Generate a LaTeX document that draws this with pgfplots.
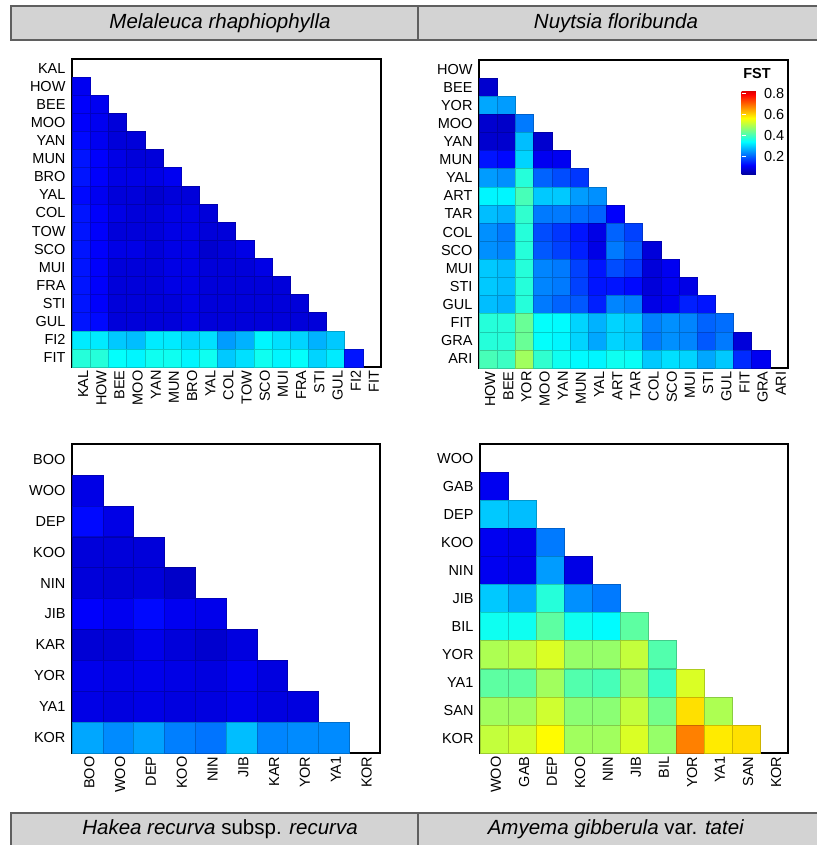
\documentclass[border=0pt]{standalone}
\usepackage{fontspec}
\setmainfont{Liberation Sans}
\usepackage{pgfplots}
\pgfplotsset{compat=1.18}

\definecolor{hdrfill}{RGB}{211,211,211}
\definecolor{hdrline}{RGB}{95,95,95}
\newcommand{\lab}{\fontsize{14.5}{16}\selectfont}
\newcommand{\hdr}{\fontsize{20.5}{22}\selectfont}

\pgfplotsset{
  heat/.style={
    scale only axis, anchor=south west,
    y dir=reverse, enlargelimits=false, axis on top,
    axis line style={line width=1.8pt},
    major tick length=0pt, tick style={draw=none},
    xticklabel pos=lower,
    x tick label style={rotate=90, anchor=east, font=\lab, yshift=-2pt},
    y tick label style={font=\lab, xshift=-3pt},
    colormap/jet, point meta min=0, point meta max=0.9,
  },
  cells/.style={scatter, only marks, mark=square*, mark size=#1, point meta=explicit},
}

\begin{document}
\begin{tikzpicture}
\path[use as bounding box] (0,0) rectangle (816pt,845pt);

% header and footer strips
\draw[hdrline, line width=2pt, fill=hdrfill] (11pt,805pt) rectangle (418pt,839pt);
\draw[hdrline, line width=2pt, fill=hdrfill] (418pt,805pt) rectangle (830pt,839pt);
\draw[hdrline, line width=2pt, fill=hdrfill] (11pt,-5pt) rectangle (418pt,32pt);
\draw[hdrline, line width=2pt, fill=hdrfill] (418pt,-5pt) rectangle (830pt,32pt);
\node[font=\hdr\itshape] at (220pt,822pt) {Melaleuca rhaphiophylla};
\node[font=\hdr\itshape] at (616pt,822pt) {Nuytsia floribunda};
\node[font=\hdr] at (220pt,16pt) {\textit{Hakea recurva} subsp. \textit{recurva}};
\node[font=\hdr] at (616pt,16pt) {\textit{Amyema gibberula} var. \textit{tatei}};

% Melaleuca rhaphiophylla
\begin{axis}[heat, at={(72pt,478pt)}, width=309pt, height=308pt,
  xmin=-0.5, xmax=16.5, ymin=-0.5, ymax=16.5,
  xtick={0,...,16}, ytick={0,...,16},
  xticklabels={KAL,HOW,BEE,MOO,YAN,MUN,BRO,YAL,COL,TOW,SCO,MUI,FRA,STI,GUL,FI2,FIT},
  yticklabels={KAL,HOW,BEE,MOO,YAN,MUN,BRO,YAL,COL,TOW,SCO,MUI,FRA,STI,GUL,FI2,FIT}]
\addplot[cells=9.09pt] coordinates {
(0,1)[.10]
(0,2)[.11] (1,2)[.10]
(0,3)[.11] (1,3)[.10] (2,3)[.08]
(0,4)[.12] (1,4)[.10] (2,4)[.08] (3,4)[.08]
(0,5)[.13] (1,5)[.11] (2,5)[.09] (3,5)[.08] (4,5)[.08]
(0,6)[.13] (1,6)[.11] (2,6)[.09] (3,6)[.09] (4,6)[.09] (5,6)[.10]
(0,7)[.12] (1,7)[.10] (2,7)[.08] (3,7)[.08] (4,7)[.07] (5,7)[.08] (6,7)[.08]
(0,8)[.13] (1,8)[.11] (2,8)[.09] (3,8)[.08] (4,8)[.08] (5,8)[.09] (6,8)[.09] (7,8)[.08]
(0,9)[.13] (1,9)[.11] (2,9)[.08] (3,9)[.08] (4,9)[.08] (5,9)[.09] (6,9)[.09] (7,9)[.08] (8,9)[.08]
(0,10)[.13] (1,10)[.11] (2,10)[.09] (3,10)[.09] (4,10)[.08] (5,10)[.09] (6,10)[.09] (7,10)[.07] (8,10)[.08] (9,10)[.09]
(0,11)[.13] (1,11)[.11] (2,11)[.08] (3,11)[.08] (4,11)[.08] (5,11)[.09] (6,11)[.09] (7,11)[.08] (8,11)[.08] (9,11)[.08] (10,11)[.09]
(0,12)[.13] (1,12)[.11] (2,12)[.08] (3,12)[.08] (4,12)[.08] (5,12)[.09] (6,12)[.09] (7,12)[.08] (8,12)[.08] (9,12)[.08] (10,12)[.08] (11,12)[.08]
(0,13)[.13] (1,13)[.11] (2,13)[.08] (3,13)[.08] (4,13)[.08] (5,13)[.08] (6,13)[.09] (7,13)[.08] (8,13)[.08] (9,13)[.08] (10,13)[.08] (11,13)[.08] (12,13)[.08]
(0,14)[.13] (1,14)[.12] (2,14)[.08] (3,14)[.08] (4,14)[.08] (5,14)[.08] (6,14)[.09] (7,14)[.08] (8,14)[.08] (9,14)[.08] (10,14)[.08] (11,14)[.08] (12,14)[.08] (13,14)[.08]
(0,15)[.32] (1,15)[.32] (2,15)[.29] (3,15)[.28] (4,15)[.32] (5,15)[.32] (6,15)[.30] (7,15)[.31] (8,15)[.25] (9,15)[.27] (10,15)[.33] (11,15)[.31] (12,15)[.30] (13,15)[.27] (14,15)[.29]
(0,16)[.37] (1,16)[.37] (2,16)[.34] (3,16)[.33] (4,16)[.35] (5,16)[.35] (6,16)[.33] (7,16)[.35] (8,16)[.29] (9,16)[.31] (10,16)[.35] (11,16)[.33] (12,16)[.34] (13,16)[.30] (14,16)[.32] (15,16)[.13]
};
\end{axis}

% Nuytsia floribunda
\begin{axis}[heat, at={(479pt,477pt)}, width=309pt, height=308pt,
  xmin=-0.5, xmax=16.5, ymin=-0.5, ymax=16.5,
  xtick={0,...,16}, ytick={0,...,16},
  xticklabels={HOW,BEE,YOR,MOO,YAN,MUN,YAL,ART,TAR,COL,SCO,MUI,STI,GUL,FIT,GRA,ARI},
  yticklabels={HOW,BEE,YOR,MOO,YAN,MUN,YAL,ART,TAR,COL,SCO,MUI,STI,GUL,FIT,GRA,ARI},
  colorbar,
  colorbar style={at={(parent axis.south west)}, anchor=south west,
    xshift=254pt, yshift=193pt, scale only axis, width=19pt, height=83pt,
    ymin=0.02, ymax=0.81, ytick={0.2,0.4,0.6,0.8},
    yticklabel style={font=\lab, /pgf/number format/fixed,
      /pgf/number format/fixed zerofill, /pgf/number format/precision=1,
      /pgf/number format/assume math mode=true},
    axis line style={draw=none},
    ytick style={draw=white, line width=1pt}, major tick length=4pt, tick align=inside,
    title={\textbf{FST}}, title style={font=\lab, yshift=4pt, xshift=6pt}}]
\addplot[cells=9.09pt] coordinates {
(0,1)[.07]
(0,2)[.26] (1,2)[.25]
(0,3)[.07] (1,3)[.065] (2,3)[.22]
(0,4)[.07] (1,4)[.07] (2,4)[.28] (3,4)[.07]
(0,5)[.13] (1,5)[.12] (2,5)[.30] (3,5)[.10] (4,5)[.10]
(0,6)[.25] (1,6)[.24] (2,6)[.37] (3,6)[.20] (4,6)[.18] (5,6)[.16]
(0,7)[.33] (1,7)[.33] (2,7)[.40] (3,7)[.29] (4,7)[.29] (5,7)[.25] (6,7)[.24]
(0,8)[.28] (1,8)[.27] (2,8)[.38] (3,8)[.22] (4,8)[.22] (5,8)[.21] (6,8)[.20] (7,8)[.11]
(0,9)[.24] (1,9)[.22] (2,9)[.37] (3,9)[.18] (4,9)[.16] (5,9)[.13] (6,9)[.09] (7,9)[.20] (8,9)[.17]
(0,10)[.24] (1,10)[.23] (2,10)[.37] (3,10)[.19] (4,10)[.17] (5,10)[.14] (6,10)[.09] (7,10)[.22] (8,10)[.19] (9,10)[.08]
(0,11)[.29] (1,11)[.28] (2,11)[.37] (3,11)[.23] (4,11)[.22] (5,11)[.17] (6,11)[.13] (7,11)[.18] (8,11)[.16] (9,11)[.08] (10,11)[.10]
(0,12)[.29] (1,12)[.28] (2,12)[.37] (3,12)[.23] (4,12)[.22] (5,12)[.17] (6,12)[.13] (7,12)[.13] (8,12)[.12] (9,12)[.08] (10,12)[.10] (11,12)[.09]
(0,13)[.28] (1,13)[.27] (2,13)[.37] (3,13)[.22] (4,13)[.20] (5,13)[.19] (6,13)[.14] (7,13)[.23] (8,13)[.22] (9,13)[.09] (10,13)[.10] (11,13)[.14] (12,13)[.13]
(0,14)[.37] (1,14)[.37] (2,14)[.43] (3,14)[.34] (4,14)[.335] (5,14)[.30] (6,14)[.27] (7,14)[.30] (8,14)[.29] (9,14)[.225] (10,14)[.24] (11,14)[.23] (12,14)[.20] (13,14)[.21]
(0,15)[.37] (1,15)[.37] (2,15)[.43] (3,15)[.34] (4,15)[.33] (5,15)[.30] (6,15)[.26] (7,15)[.30] (8,15)[.29] (9,15)[.22] (10,15)[.24] (11,15)[.23] (12,15)[.19] (13,15)[.22] (14,15)[.08]
(0,16)[.40] (1,16)[.39] (2,16)[.48] (3,16)[.38] (4,16)[.35] (5,16)[.335] (6,16)[.33] (7,16)[.35] (8,16)[.345] (9,16)[.29] (10,16)[.31] (11,16)[.30] (12,16)[.26] (13,16)[.29] (14,16)[.15] (15,16)[.10]
};
\end{axis}

% Hakea recurva subsp. recurva
\begin{axis}[heat, at={(72pt,92pt)}, width=308pt, height=309pt,
  xmin=-0.5, xmax=9.5, ymin=-0.5, ymax=9.5,
  xtick={0,...,9}, ytick={0,...,9},
  xticklabels={BOO,WOO,DEP,KOO,NIN,JIB,KAR,YOR,YA1,KOR},
  yticklabels={BOO,WOO,DEP,KOO,NIN,JIB,KAR,YOR,YA1,KOR}]
\addplot[cells=15.4pt] coordinates {
(0,1)[.09]
(0,2)[.12] (1,2)[.09]
(0,3)[.08] (1,3)[.08] (2,3)[.08]
(0,4)[.08] (1,4)[.075] (2,4)[.08] (3,4)[.065]
(0,5)[.11] (1,5)[.10] (2,5)[.12] (3,5)[.10] (4,5)[.095]
(0,6)[.075] (1,6)[.075] (2,6)[.095] (3,6)[.08] (4,6)[.07] (5,6)[.085]
(0,7)[.095] (1,7)[.09] (2,7)[.095] (3,7)[.09] (4,7)[.085] (5,7)[.10] (6,7)[.085]
(0,8)[.09] (1,8)[.085] (2,8)[.09] (3,8)[.085] (4,8)[.085] (5,8)[.095] (6,8)[.085] (7,8)[.085]
(0,9)[.26] (1,9)[.235] (2,9)[.255] (3,9)[.225] (4,9)[.215] (5,9)[.28] (6,9)[.23] (7,9)[.235] (8,9)[.235]
};
\end{axis}

% Amyema gibberula var. tatei
\begin{axis}[heat, at={(480pt,92pt)}, width=308pt, height=309pt,
  xmin=-0.5, xmax=10.5, ymin=-0.5, ymax=10.5,
  xtick={0,...,10}, ytick={0,...,10},
  xticklabels={WOO,GAB,DEP,KOO,NIN,JIB,BIL,YOR,YA1,SAN,KOR},
  yticklabels={WOO,GAB,DEP,KOO,NIN,JIB,BIL,YOR,YA1,SAN,KOR}]
\addplot[cells=14pt] coordinates {
(0,1)[.10]
(0,2)[.29] (1,2)[.28]
(0,3)[.10] (1,3)[.095] (2,3)[.22]
(0,4)[.10] (1,4)[.095] (2,4)[.25] (3,4)[.09]
(0,5)[.29] (1,5)[.26] (2,5)[.37] (3,5)[.24] (4,5)[.22]
(0,6)[.35] (1,6)[.35] (2,6)[.42] (3,6)[.35] (4,6)[.335] (5,6)[.42]
(0,7)[.49] (1,7)[.50] (2,7)[.53] (3,7)[.47] (4,7)[.47] (5,7)[.51] (6,7)[.41]
(0,8)[.42] (1,8)[.42] (2,8)[.48] (3,8)[.41] (4,8)[.40] (5,8)[.47] (6,8)[.39] (7,8)[.53]
(0,9)[.48] (1,9)[.48] (2,9)[.52] (3,9)[.46] (4,9)[.46] (5,9)[.51] (6,9)[.44] (7,9)[.59] (8,9)[.49]
(0,10)[.51] (1,10)[.52] (2,10)[.565] (3,10)[.48] (4,10)[.48] (5,10)[.53] (6,10)[.47] (7,10)[.675] (8,10)[.58] (9,10)[.59]
};
\end{axis}
\end{tikzpicture}
\end{document}
